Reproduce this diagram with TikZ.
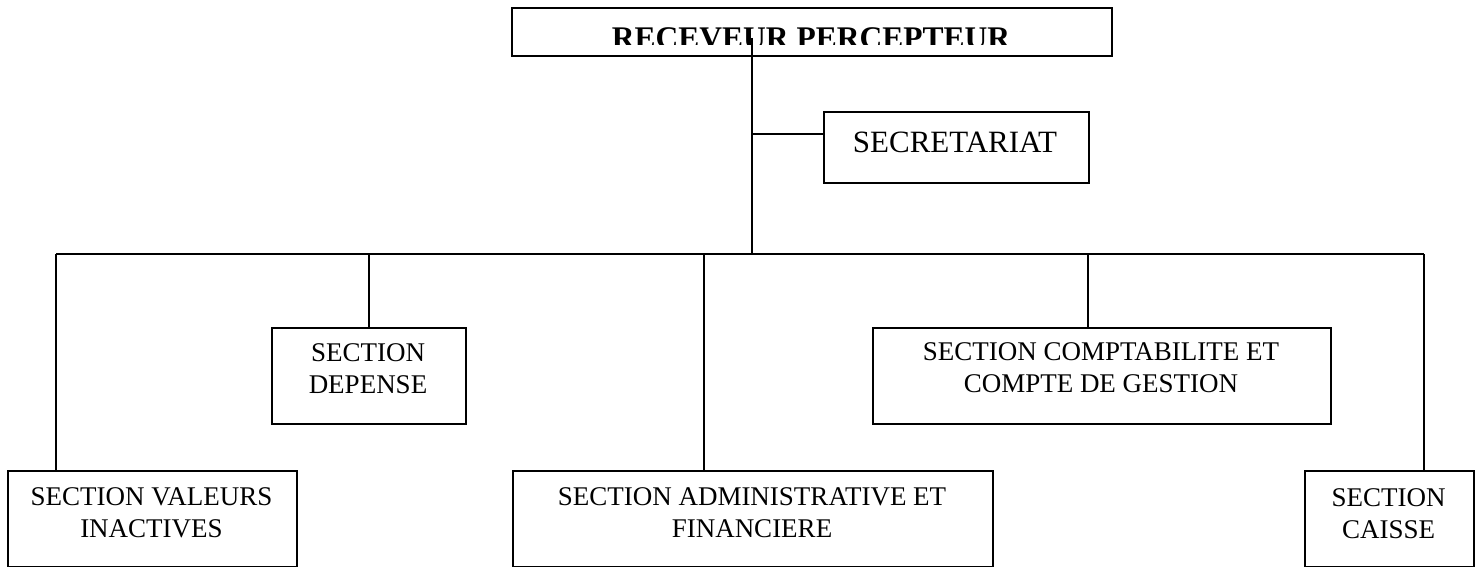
\documentclass[tikz,border=0pt]{standalone}
\usepackage{fontspec}
\setmainfont{Liberation Serif}
\begin{document}
\begin{tikzpicture}[x=1pt,y=-1pt,
  box/.style={draw, line width=1.6pt, inner sep=0pt, anchor=north west},
  lbl/.style={align=center, font=\fontsize{27}{31.5}\selectfont, inner sep=0pt, anchor=base},
  conn/.style={line width=1.6pt}]
\useasboundingbox (0,0) rectangle (1477,567);
% boxes
\node[box, minimum width=600pt, minimum height=48pt] (top) at (511,7) {};
\node[box, minimum width=265pt, minimum height=71pt] (sec) at (823,111) {};
\node[box, minimum width=194pt, minimum height=96pt] (dep) at (271,327) {};
\node[box, minimum width=458pt, minimum height=96pt] (comp) at (872,327) {};
\node[box, minimum width=289pt, minimum height=96pt] (svi) at (7,470) {};
\node[box, minimum width=480pt, minimum height=96pt] (adm) at (512,470) {};
\node[box, minimum width=169pt, minimum height=96pt] (cai) at (1304,470) {};
% texts
\begin{scope}
\clip (511,7) rectangle (1111,45);
\node[anchor=base, inner sep=0pt, font=\fontsize{31.5}{35}\selectfont\bfseries] (toptxt) at (811,49) {RECEVEUR PERCEPTEUR};
\end{scope}
\node[anchor=base, inner sep=0pt, font=\fontsize{31}{35}\selectfont] (sectxt) at (955,153) {SECRETARIAT};
\node[lbl] (deptxt) at (368,393) {SECTION\\DEPENSE};
\node[lbl] (comptxt) at (1101,392) {SECTION COMPTABILITE ET\\COMPTE DE GESTION};
\node[lbl] (svitxt) at (151.5,537) {SECTION VALEURS\\INACTIVES};
\node[lbl] (admtxt) at (752,537) {SECTION ADMINISTRATIVE ET\\FINANCIERE};
\node[lbl] (caitxt) at (1388.5,538) {SECTION\\CAISSE};
% connectors
\coordinate (topstart) at (752,38);
\coordinate (hub) at (752,254);
\coordinate (seclink) at (752,134);
\coordinate (busL) at (56,254);
\coordinate (busR) at (1424,254);
\coordinate (admdrop) at (704,254);
\coordinate (compdrop) at (1088,254);
\draw[conn] (topstart) -- (hub);
\draw[conn] (seclink) -- (seclink -| sec.west);
\draw[conn] (busL) -- (busR);
\draw[conn] (busL) -- (busL |- svi.north);
\draw[conn] (dep.north) -- (dep.north |- hub);
\draw[conn] (admdrop) -- (admdrop |- adm.north);
\draw[conn] (compdrop) -- (compdrop |- comp.north);
\draw[conn] (busR) -- (busR |- cai.north);
\end{tikzpicture}
\end{document}
